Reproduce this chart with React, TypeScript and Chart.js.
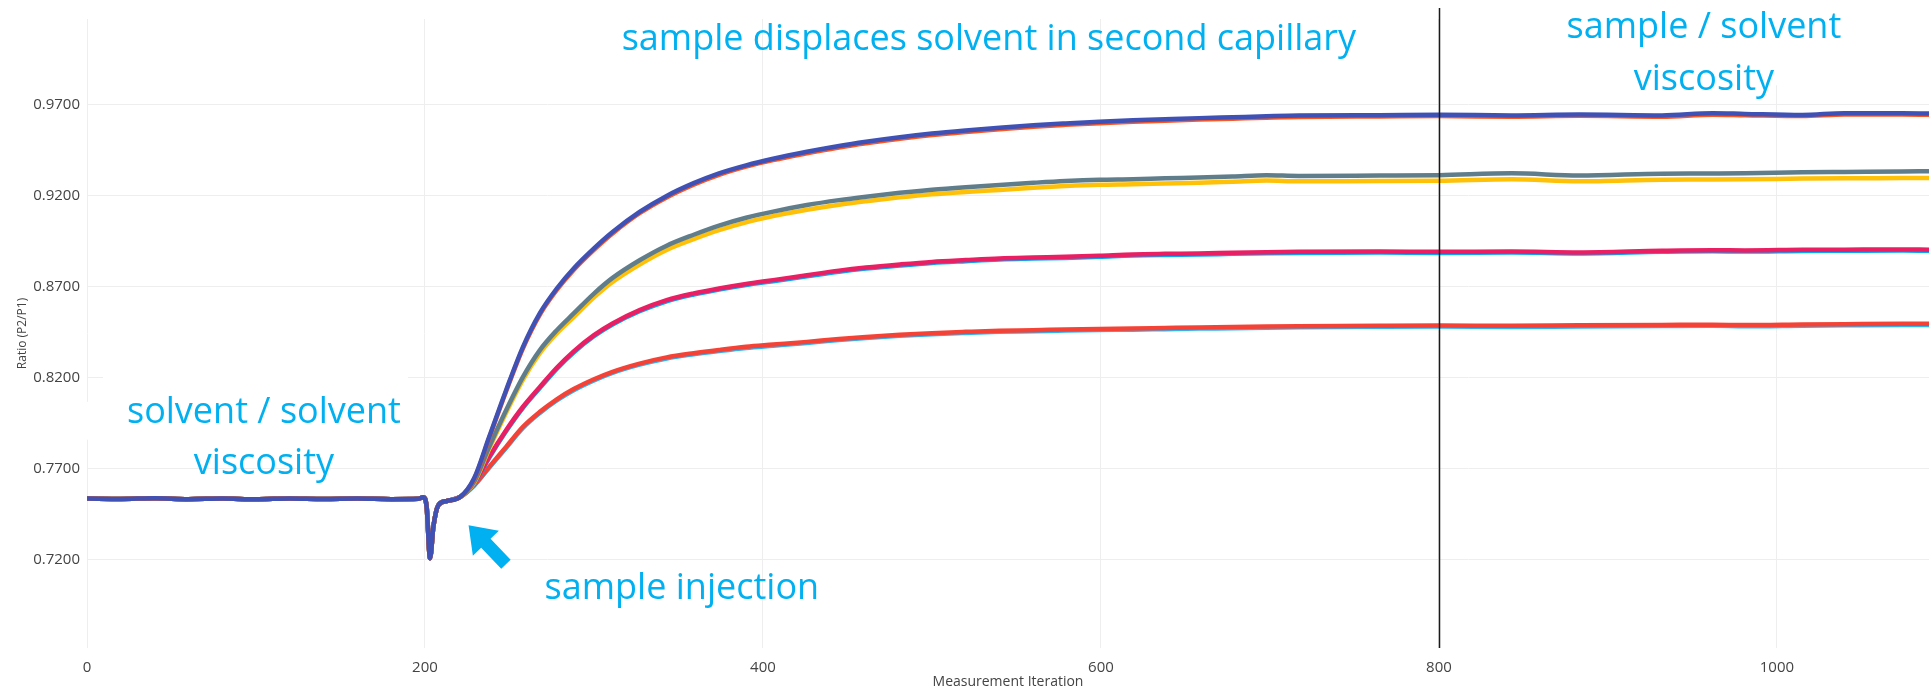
import React, { useEffect, useRef } from "react";
import { Chart, registerables } from "chart.js";

Chart.register(...registerables);

// ---- data ----
const baselineIterations = [0, 20, 40, 60, 80, 100, 120, 140, 160, 180, 196, 199, 201, 203, 205, 208, 213, 221];
const baselineRatio = [0.7537, 0.7535, 0.7539, 0.7534, 0.7537, 0.7533, 0.7538, 0.7535, 0.7537, 0.7534, 0.7536, 0.7545, 0.749, 0.721, 0.7385, 0.7502, 0.7524, 0.7547];

const riseIterations = [229, 238, 248, 258, 268, 278, 288, 300, 311, 327, 343, 359, 374, 390, 406, 426, 445, 461, 481, 500, 520, 540, 560, 579, 599, 619, 638, 658, 678, 698, 717, 765, 800, 843, 883, 932, 962, 981, 1015, 1040, 1074, 1090];

const indigoRise = [0.7647, 0.7876, 0.8132, 0.837, 0.8555, 0.869, 0.88, 0.891, 0.9, 0.911, 0.9198, 0.9268, 0.9322, 0.9366, 0.9402, 0.944, 0.9472, 0.9495, 0.952, 0.954, 0.9557, 0.9572, 0.9586, 0.9596, 0.9605, 0.9613, 0.9619, 0.9625, 0.963, 0.9635, 0.9639, 0.9641, 0.9643, 0.964, 0.9645, 0.964, 0.9652, 0.9648, 0.9642, 0.9652, 0.9652, 0.965];
const orangeRise = [0.7642, 0.787, 0.8125, 0.8362, 0.8547, 0.8682, 0.8792, 0.8902, 0.8992, 0.9103, 0.919, 0.926, 0.9314, 0.9359, 0.9395, 0.9432, 0.9464, 0.9487, 0.9512, 0.9532, 0.9549, 0.9564, 0.9578, 0.9588, 0.9597, 0.9605, 0.9611, 0.9617, 0.9622, 0.9627, 0.9631, 0.9634, 0.9636, 0.9633, 0.9638, 0.9633, 0.9644, 0.9641, 0.9636, 0.9645, 0.9645, 0.9643];
const slateRise = [0.7629, 0.7821, 0.8022, 0.8205, 0.8352, 0.8461, 0.8553, 0.8662, 0.8748, 0.8845, 0.8925, 0.8985, 0.9035, 0.9078, 0.9112, 0.9148, 0.9175, 0.9194, 0.9215, 0.9232, 0.9246, 0.9258, 0.927, 0.928, 0.9287, 0.929, 0.9295, 0.9299, 0.9305, 0.9312, 0.9308, 0.931, 0.9312, 0.9322, 0.931, 0.932, 0.9321, 0.9322, 0.9328, 0.933, 0.9332, 0.9334];
const amberRise = [0.7622, 0.781, 0.8008, 0.819, 0.8335, 0.8443, 0.8533, 0.8641, 0.8726, 0.8822, 0.8902, 0.8961, 0.901, 0.9053, 0.9087, 0.9122, 0.915, 0.9169, 0.919, 0.9207, 0.922, 0.9231, 0.9243, 0.9252, 0.9259, 0.9262, 0.9266, 0.927, 0.9276, 0.9282, 0.9278, 0.928, 0.9281, 0.929, 0.9278, 0.9287, 0.9288, 0.9289, 0.9293, 0.9295, 0.9296, 0.9297];
const pinkRise = [0.762, 0.7766, 0.7912, 0.8041, 0.815, 0.8255, 0.8345, 0.8434, 0.8498, 0.8571, 0.8626, 0.8663, 0.869, 0.8715, 0.8736, 0.8763, 0.8788, 0.8805, 0.8822, 0.8836, 0.8846, 0.8855, 0.886, 0.8864, 0.887, 0.8877, 0.888, 0.8882, 0.8886, 0.8889, 0.8891, 0.8893, 0.8891, 0.8893, 0.8888, 0.8897, 0.89, 0.8899, 0.8902, 0.8903, 0.8904, 0.8903];
const skyRise = [0.7616, 0.7761, 0.7906, 0.8035, 0.8144, 0.8249, 0.8339, 0.8428, 0.8492, 0.8565, 0.862, 0.8657, 0.8684, 0.8709, 0.873, 0.8757, 0.8782, 0.8799, 0.8816, 0.883, 0.884, 0.8849, 0.8854, 0.8858, 0.8864, 0.8871, 0.8874, 0.8876, 0.888, 0.8883, 0.8885, 0.8887, 0.8885, 0.8887, 0.8882, 0.8891, 0.8894, 0.8893, 0.8896, 0.8897, 0.8898, 0.8897];
const redRise = [0.7611, 0.7711, 0.7821, 0.7931, 0.8013, 0.8082, 0.8138, 0.8192, 0.8233, 0.8278, 0.8312, 0.8335, 0.8353, 0.837, 0.8382, 0.8397, 0.8413, 0.8424, 0.8436, 0.8445, 0.8452, 0.8458, 0.8461, 0.8465, 0.8468, 0.847, 0.8473, 0.8476, 0.8478, 0.8481, 0.8483, 0.8486, 0.8487, 0.8485, 0.8488, 0.849, 0.8491, 0.8489, 0.8492, 0.8494, 0.8496, 0.8496];
const blueRise = [0.7607, 0.7706, 0.7815, 0.7925, 0.8007, 0.8076, 0.8132, 0.8186, 0.8227, 0.8272, 0.8306, 0.8329, 0.8347, 0.8364, 0.8376, 0.8391, 0.8407, 0.8418, 0.843, 0.8439, 0.8446, 0.8452, 0.8455, 0.8459, 0.8462, 0.8464, 0.8467, 0.847, 0.8472, 0.8475, 0.8477, 0.848, 0.8481, 0.8479, 0.8482, 0.8484, 0.8485, 0.8483, 0.8486, 0.8488, 0.849, 0.849];

const seriesNames = ["Sample A run 1", "Sample A run 2", "Sample B run 1", "Sample B run 2", "Sample C run 1", "Sample C run 2", "Sample D run 1", "Sample D run 2"];
const seriesRises = [indigoRise, orangeRise, slateRise, amberRise, pinkRise, skyRise, redRise, blueRise];
const seriesColors = ["#3F51B5", "#FF5722", "#607D8B", "#FFC107", "#E91E63", "#03A9F4", "#F44336", "#29B6F6"];

const xTickValues = [0, 200, 400, 600, 800, 1000];
const yTickValues = [0.72, 0.77, 0.82, 0.87, 0.92, 0.97];
const xRange = [0, 1090];
const yRange = [0.6717, 1.0169];
const phaseBoundary = 800;

// annotations in data coordinates
const noteColor = "#00B0F0";
const noteFont = '36px "Open Sans"';
const noteLines = [
  { text: "sample displaces solvent in second capillary", x: 533.7, y: 1.0 },
  { text: "sample / solvent", x: 956.8, y: 1.0063 },
  { text: "viscosity", x: 956.8, y: 0.9778 },
  { text: "solvent / solvent", x: 104.7, y: 0.7952 },
  { text: "viscosity", x: 104.7, y: 0.7673 },
  { text: "sample injection", x: 352, y: 0.6985 },
];
// white text-box backgrounds that hide grid lines: [x0, x1, y0, y1] in data units
const maskBoxes = [
  [-4.1, 190, 0.8068, 0.786],
  [9.5, 190, 0.8232, 0.8068],
  [860, 1050, 1.0169, 0.9805],
];
const injectionArrow = { tipX: 225.8, tipY: 0.7391, tailX: 247.9, tailY: 0.7177 };

const annotationPlugin = {
  id: "annotations",
  beforeDatasetsDraw(chart: any) {
    const { ctx, scales } = chart;
    const xs = scales.x;
    const ys = scales.y;
    ctx.save();
    ctx.fillStyle = "#ffffff";
    for (const b of maskBoxes) {
      const x0 = xs.getPixelForValue(b[0]);
      const x1 = xs.getPixelForValue(b[1]);
      const y0 = ys.getPixelForValue(b[2]);
      const y1 = ys.getPixelForValue(b[3]);
      ctx.fillRect(x0, y0, x1 - x0, y1 - y0);
    }
    ctx.restore();
  },
  afterDraw(chart: any) {
    const { ctx, chartArea, scales } = chart;
    const xs = scales.x;
    const ys = scales.y;
    ctx.save();
    ctx.font = noteFont;
    ctx.textAlign = "center";
    ctx.textBaseline = "alphabetic";
    ctx.fillStyle = noteColor;
    for (const n of noteLines) {
      ctx.fillText(n.text, xs.getPixelForValue(n.x), ys.getPixelForValue(n.y));
    }
    // arrow
    const tx = xs.getPixelForValue(injectionArrow.tipX);
    const ty = ys.getPixelForValue(injectionArrow.tipY);
    const ex = xs.getPixelForValue(injectionArrow.tailX);
    const ey = ys.getPixelForValue(injectionArrow.tailY);
    const len = Math.hypot(ex - tx, ey - ty);
    const ux = (ex - tx) / len;
    const uy = (ey - ty) / len;
    const nx = -uy;
    const ny = ux;
    const headLen = 25;
    const headHalf = 18;
    const shaftHalf = 6.5;
    const bx = tx + ux * headLen;
    const by = ty + uy * headLen;
    ctx.beginPath();
    ctx.moveTo(tx, ty);
    ctx.lineTo(bx + nx * headHalf, by + ny * headHalf);
    ctx.lineTo(bx + nx * shaftHalf, by + ny * shaftHalf);
    ctx.lineTo(ex + nx * shaftHalf, ey + ny * shaftHalf);
    ctx.lineTo(ex - nx * shaftHalf, ey - ny * shaftHalf);
    ctx.lineTo(bx - nx * shaftHalf, by - ny * shaftHalf);
    ctx.lineTo(bx - nx * headHalf, by - ny * headHalf);
    ctx.closePath();
    ctx.fill();
    // phase boundary line
    const lx = Math.round(xs.getPixelForValue(phaseBoundary)) + 0.5;
    ctx.strokeStyle = "#1a1a1a";
    ctx.lineWidth = 1.5;
    ctx.beginPath();
    ctx.moveTo(lx, chartArea.top - 11);
    ctx.lineTo(lx, chartArea.bottom);
    ctx.stroke();
    ctx.restore();
  },
};

export default function App() {
  const canvasRef = useRef<HTMLCanvasElement | null>(null);

  useEffect(() => {
    const canvas = canvasRef.current;
    if (!canvas) return;
    const iterations = [...baselineIterations, ...riseIterations];
    const datasets = seriesNames.map((name, i) => ({
      label: name,
      data: iterations.map((it, k) => ({
        x: it,
        y: k < baselineRatio.length ? baselineRatio[k] : seriesRises[i][k - baselineRatio.length],
      })),
      borderColor: seriesColors[i],
      backgroundColor: seriesColors[i],
      borderWidth: 4.5,
      pointRadius: 0,
      cubicInterpolationMode: "monotone" as const,
      fill: false,
    }));

    const tickFont = { family: '"Open Sans", sans-serif', size: 15 };
    const chart = new Chart(canvas, {
      type: "line",
      data: { datasets },
      options: {
        animation: false,
        responsive: false,
        devicePixelRatio: 1,
        layout: { padding: { top: 19, right: 0, left: 0, bottom: 0 } },
        plugins: { legend: { display: false }, tooltip: { enabled: false } },
        scales: {
          x: {
            type: "linear",
            min: xRange[0],
            max: xRange[1],
            afterBuildTicks: (s: any) => {
              s.ticks = xTickValues.map((v) => ({ value: v }));
            },
            afterFit: (s: any) => {
              s.height = 43;
            },
            ticks: {
              autoSkip: false,
              maxRotation: 0,
              padding: 11,
              color: "#444",
              font: tickFont,
              callback: (v: any) => String(v),
            },
            grid: { color: "#eeeeee", lineWidth: 1, drawTicks: false },
            border: { display: false },
            title: {
              display: true,
              text: "Measurement Iteration",
              color: "#444",
              font: { family: '"Open Sans", sans-serif', size: 14 },
              padding: { top: 0, bottom: 1 },
            },
          },
          y: {
            type: "linear",
            min: yRange[0],
            max: yRange[1],
            afterBuildTicks: (s: any) => {
              s.ticks = yTickValues.map((v) => ({ value: v }));
            },
            afterFit: (s: any) => {
              s.width = 87;
            },
            ticks: {
              padding: 7,
              color: "#444",
              font: tickFont,
              callback: (v: any) => Number(v).toFixed(4),
            },
            grid: { color: "#eeeeee", lineWidth: 1, drawTicks: false },
            border: { display: false },
            title: {
              display: true,
              text: "Ratio (P2/P1)",
              color: "#444",
              font: { family: '"Open Sans", sans-serif', size: 12 },
              padding: { top: 15, bottom: 0 },
            },
          },
        },
      },
      plugins: [annotationPlugin],
    });
    return () => chart.destroy();
  }, []);

  return (
    <div style={{ position: "absolute", left: 0, top: 0, width: 1929, height: 691, background: "#fff" }}>
      <canvas ref={canvasRef} width={1929} height={691} style={{ display: "block", width: 1929, height: 691 }} />
    </div>
  );
}
